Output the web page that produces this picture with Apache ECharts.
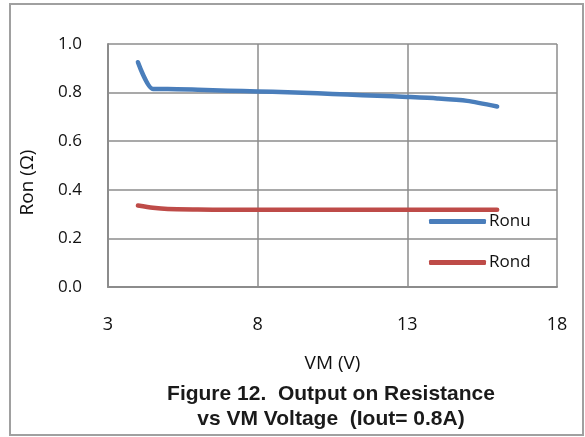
<!DOCTYPE html>
<html>
<head>
<meta charset="utf-8">
<script src="https://cdn.jsdelivr.net/npm/echarts@6/dist/echarts.min.js"></script>
<style>
  html, body { margin: 0; padding: 0; background: #fff; }
  #chart { width: 585px; height: 437px; }
</style>
</head>
<body>
<div id="chart"></div>
<script>
// VM (V) values
const vmRonu = [4, 4.5, 5, 6, 7, 8, 9, 10, 11, 12, 13, 14, 15, 16]
const ronu = [0.925, 0.815, 0.815, 0.812, 0.808, 0.805, 0.801, 0.797, 0.792, 0.787, 0.782, 0.776, 0.766, 0.743]
const vmRond = [4, 4.5, 5, 6, 7, 8, 9, 10, 11, 12, 13, 14, 15, 16]
const rond = [0.335, 0.326, 0.321, 0.319, 0.318, 0.318, 0.318, 0.318, 0.318, 0.318, 0.318, 0.318, 0.318, 0.318]
const xTicks = [3, 8, 13, 18]
const yTicks = [0, 0.2, 0.4, 0.6, 0.8, 1.0]

const pairs = (xs, ys) => xs.map((x, i) => [x, ys[i]])

const chart = echarts.init(document.getElementById('chart'))
const gridColor = '#8c8c8c'
const labelFont = 'Open Sans'

chart.setOption({
  animation: false,
  graphic: [
    {
      type: 'rect',
      shape: { x: 10, y: 4, width: 573, height: 431 },
      style: { fill: 'none', stroke: '#a0a0a0', lineWidth: 2 }
    },
    {
      type: 'text',
      x: 331,
      y: 382,
      style: {
        text: 'Figure 12.  Output on Resistance\nvs VM Voltage  (Iout= 0.8A)',
        font: 'bold 21px "Liberation Sans"',
        fill: '#1a1a1a',
        align: 'center',
        textAlign: 'center',
        lineHeight: 25
      }
    }
  ],
  grid: { left: 108, right: 28, top: 44, bottom: 150 },
  legend: {
    orient: 'vertical',
    left: 424,
    top: 207,
    itemWidth: 57,
    itemHeight: 5,
    itemGap: 22,
    icon: 'roundRect',
    textStyle: { fontFamily: labelFont, fontSize: 17, color: '#111', padding: [0, 0, 0, -2], lineHeight: 19 },
    data: ['Ronu', 'Rond']
  },
  xAxis: {
    type: 'value',
    min: 3,
    max: 18,
    interval: 5,
    name: 'VM (V)',
    nameLocation: 'middle',
    nameGap: 67,
    nameTextStyle: { fontFamily: labelFont, fontSize: 19, color: '#111' },
    axisLine: { show: true, lineStyle: { color: gridColor, width: 2 } },
    axisTick: { show: false },
    axisLabel: {
      fontFamily: labelFont, fontSize: 18, color: '#111', margin: 29,
      formatter: v => xTicks.includes(v) ? String(v) : ''
    },
    splitLine: { show: true, lineStyle: { color: gridColor, width: 1.5 } }
  },
  yAxis: {
    type: 'value',
    min: 0,
    max: 1.0,
    interval: 0.2,
    name: 'Ron (Ω)',
    nameLocation: 'middle',
    nameGap: 71,
    nameTextStyle: { fontFamily: labelFont, fontSize: 19, color: '#111', padding: [0, 0, 0, -34] },
    axisLine: { show: true, lineStyle: { color: gridColor, width: 2 } },
    axisTick: { show: false },
    axisLabel: {
      fontFamily: labelFont, fontSize: 17, color: '#111', margin: 26,
      formatter: v => yTicks.some(t => Math.abs(t - v) < 1e-6) ? v.toFixed(1) : ''
    },
    splitLine: { show: true, lineStyle: { color: gridColor, width: 1.5 } }
  },
  series: [
    {
      name: 'Ronu',
      type: 'line',
      data: pairs(vmRonu, ronu),
      smooth: 0.25,
      showSymbol: false,
      color: '#4a7ebb',
      lineStyle: { width: 4.5, cap: 'round', join: 'round' }
    },
    {
      name: 'Rond',
      type: 'line',
      data: pairs(vmRond, rond),
      smooth: 0.25,
      showSymbol: false,
      color: '#be4b48',
      lineStyle: { width: 4.5, cap: 'round', join: 'round' }
    }
  ]
})
</script>
</body>
</html>
